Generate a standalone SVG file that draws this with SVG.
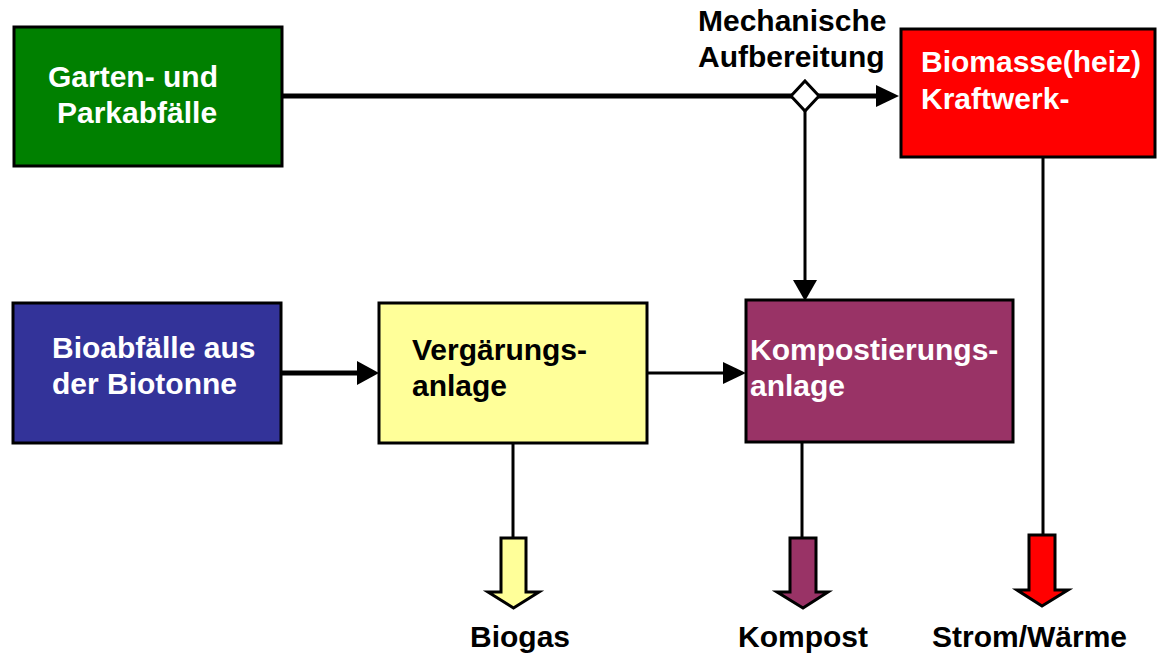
<svg xmlns="http://www.w3.org/2000/svg" width="1157" height="654" viewBox="0 0 1157 654">
<style>
  .box { stroke: #000; stroke-width: 3; }
  .t { font-family: "Liberation Sans", Arial, sans-serif; font-weight: bold; font-size: 30px; }
  .w { fill: #fff; }
  .k { fill: #000; }
  .ln { stroke: #000; fill: none; }
  .ah { fill: #000; stroke: none; }
  .blk { stroke: #000; stroke-width: 3; stroke-linejoin: miter; }
</style>
<rect width="1157" height="654" fill="#fff"/>
<g id="connectors">
  <line class="ln" x1="283" y1="96" x2="878" y2="96" stroke-width="5"/>
  <polygon class="ah" points="876,85 899,96 876,107"/>
  <line class="ln" x1="805" y1="110" x2="805" y2="282" stroke-width="3"/>
  <polygon class="ah" points="793,280 817,280 805,301"/>
  <line class="ln" x1="281" y1="373" x2="359" y2="373" stroke-width="5"/>
  <polygon class="ah" points="357,361 379,373 357,385"/>
  <line class="ln" x1="647" y1="373" x2="725" y2="373" stroke-width="3"/>
  <polygon class="ah" points="723,362 746,373 723,384"/>
  <polygon id="junction" points="805,81 819,96 805,111 791,96" fill="#fff" stroke="#000" stroke-width="3"/>
  <line class="ln" x1="513" y1="443" x2="513" y2="538" stroke-width="3"/>
  <line class="ln" x1="802" y1="442" x2="802" y2="538" stroke-width="3"/>
  <line class="ln" x1="1043" y1="157" x2="1043" y2="535" stroke-width="3"/>
</g>
<g id="garten">
  <rect class="box" x="14" y="27" width="268" height="139" fill="#008000"/>
  <text class="t w" x="48" y="87">Garten- und</text>
  <text class="t w" x="57" y="123">Parkabfälle</text>
</g>
<g id="mechanische">
  <text class="t k" x="698" y="31">Mechanische</text>
  <text class="t k" x="698" y="67">Aufbereitung</text>
</g>
<g id="biomasse">
  <rect class="box" x="901" y="29" width="254" height="128" fill="#ff0000"/>
  <text class="t w" x="921" y="72">Biomasse(heiz)</text>
  <text class="t w" x="921" y="109">Kraftwerk-</text>
</g>
<g id="bioabfaelle">
  <rect class="box" x="13" y="303" width="268" height="140" fill="#333399"/>
  <text class="t w" x="52" y="358">Bioabfälle aus</text>
  <text class="t w" x="52" y="394">der Biotonne</text>
</g>
<g id="vergaerung">
  <rect class="box" x="379" y="303" width="268" height="140" fill="#ffff99"/>
  <text class="t k" x="412" y="360">Vergärungs-</text>
  <text class="t k" x="412" y="396">anlage</text>
</g>
<g id="kompostierung">
  <rect class="box" x="746" y="300" width="267" height="142" fill="#993366"/>
  <text class="t w" x="750" y="360">Kompostierungs-</text>
  <text class="t w" x="750" y="396">anlage</text>
</g>
<g id="biogas">
  <polygon class="blk" fill="#ffff99" points="501,538 526,538 526,592 539,592 513.5,608 488,592 501,592"/>
  <text class="t k" x="470" y="647">Biogas</text>
</g>
<g id="kompost">
  <polygon class="blk" fill="#993366" points="790,538 816,538 816,592 828,592 803,608 777,592 790,592"/>
  <text class="t k" x="738" y="647">Kompost</text>
</g>
<g id="strom">
  <polygon class="blk" fill="#ff0000" points="1029,535 1055,535 1055,590 1068,590 1042,606 1017,590 1029,590"/>
  <text class="t k" x="932" y="647">Strom/Wärme</text>
</g>
</svg>
